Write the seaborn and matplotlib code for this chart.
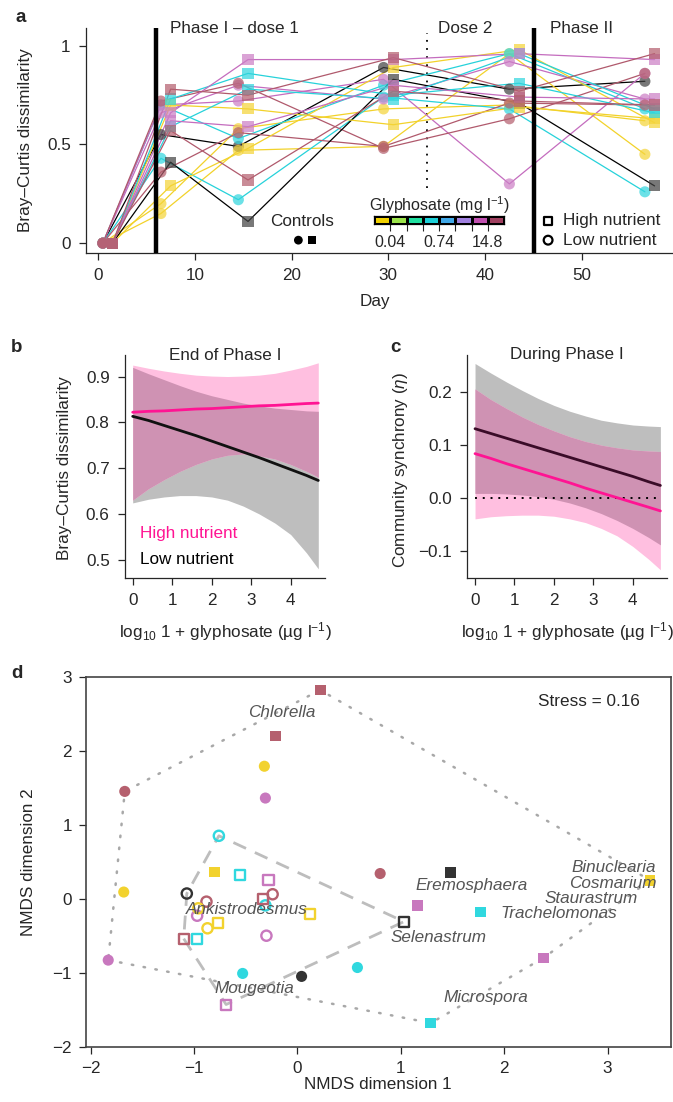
import numpy as np
import pandas as pd
import matplotlib
matplotlib.use("Agg")
import matplotlib.pyplot as plt
import seaborn as sns
from matplotlib.colors import ListedColormap

sns.set_style("ticks")
plt.rcParams["font.family"] = ["Liberation Sans", "DejaVu Sans"]
plt.rcParams["mathtext.fontset"] = "custom"
plt.rcParams["mathtext.rm"] = "Liberation Sans"
plt.rcParams["mathtext.it"] = "Liberation Sans:italic"
plt.rcParams["mathtext.bf"] = "Liberation Sans:bold"
plt.rcParams["font.size"] = 12.3
plt.rcParams["axes.labelsize"] = 12.3
plt.rcParams["xtick.labelsize"] = 12.3
plt.rcParams["ytick.labelsize"] = 12.3
plt.rcParams["axes.linewidth"] = 0.9
plt.rcParams["xtick.major.width"] = 0.9
plt.rcParams["ytick.major.width"] = 0.9
plt.rcParams["xtick.major.size"] = 5
plt.rcParams["ytick.major.size"] = 5

# ---------------- data: panel a ----------------
days = [1, 7, 15, 30, 43, 57]
low_groups = ["control", "yellow", "yellow", "cyan", "cyan", "pink", "pink", "maroon", "maroon"]
low_values = [
    [0, 0.55, 0.49, 0.89, 0.78, 0.82],
    [0, 0.20, 0.58, 0.68, 0.70, 0.62],
    [0, 0.15, 0.47, 0.49, 0.96, 0.45],
    [0, 0.43, 0.22, 0.74, 0.68, 0.26],
    [0, 0.70, 0.53, 0.80, 0.96, 0.68],
    [0, 0.70, 0.72, 0.83, 0.30, 0.86],
    [0, 0.66, 0.80, 0.73, 0.92, 0.73],
    [0, 0.72, 0.81, 0.48, 0.63, 0.86],
    [0, 0.36, 0.56, 0.49, 0.71, 0.70],
]
high_groups = ["control", "yellow", "yellow", "cyan", "cyan", "pink", "pink", "maroon", "maroon"]
high_values = [
    [0, 0.41, 0.11, 0.83, 0.71, 0.29],
    [0, 0.29, 0.48, 0.89, 0.98, 0.61],
    [0, 0.70, 0.68, 0.60, 0.69, 0.63],
    [0, 0.73, 0.86, 0.75, 0.81, 0.66],
    [0, 0.59, 0.78, 0.73, 0.96, 0.68],
    [0, 0.66, 0.93, 0.93, 0.96, 0.93],
    [0, 0.62, 0.59, 0.80, 0.74, 0.73],
    [0, 0.78, 0.75, 0.94, 0.77, 0.96],
    [0, 0.57, 0.32, 0.77, 0.72, 0.70],
]
phase_lines = [6, 45]
dose2_day = 34
colorbar_colors = ["#F0D000", "#9BE34A", "#1FE0A0", "#1BD0D8", "#40A8E8", "#A080E0", "#C050B0", "#A04060"]
colorbar_labels = ["0.04", "", "", "0.74", "", "", "14.8"]

# ---------------- data: panels b, c ----------------
glyph_x = [0, 0.4, 0.8, 1.2, 1.6, 2.0, 2.4, 2.8, 3.2, 3.6, 4.0, 4.4, 4.7]
b_hi_fit = [0.822, 0.824, 0.825, 0.827, 0.829, 0.830, 0.832, 0.834, 0.836, 0.837, 0.839, 0.841, 0.842]
b_hi_up = [0.925, 0.918, 0.912, 0.907, 0.903, 0.901, 0.900, 0.901, 0.903, 0.907, 0.914, 0.922, 0.930]
b_hi_lo = [0.630, 0.655, 0.675, 0.693, 0.708, 0.720, 0.728, 0.731, 0.727, 0.720, 0.708, 0.693, 0.680]
b_lo_fit = [0.813, 0.804, 0.793, 0.782, 0.771, 0.759, 0.747, 0.735, 0.723, 0.710, 0.697, 0.684, 0.673]
b_lo_up = [0.920, 0.906, 0.893, 0.880, 0.868, 0.858, 0.850, 0.842, 0.836, 0.831, 0.828, 0.825, 0.824]
b_lo_lo = [0.624, 0.632, 0.637, 0.640, 0.640, 0.637, 0.630, 0.617, 0.600, 0.580, 0.555, 0.515, 0.480]

c_lo_fit = [0.130, 0.121, 0.112, 0.103, 0.094, 0.085, 0.076, 0.067, 0.058, 0.049, 0.040, 0.030, 0.023]
c_lo_up = [0.253, 0.235, 0.218, 0.202, 0.187, 0.174, 0.163, 0.154, 0.146, 0.141, 0.137, 0.135, 0.134]
c_lo_lo = [0.008, 0.008, 0.007, 0.005, 0.002, -0.003, -0.010, -0.019, -0.030, -0.043, -0.058, -0.075, -0.089]
c_hi_fit = [0.083, 0.074, 0.064, 0.055, 0.046, 0.037, 0.028, 0.018, 0.009, 0.000, -0.009, -0.018, -0.025]
c_hi_up = [0.205, 0.185, 0.168, 0.152, 0.138, 0.126, 0.115, 0.106, 0.099, 0.094, 0.090, 0.088, 0.087]
c_hi_lo = [-0.040, -0.036, -0.034, -0.033, -0.033, -0.035, -0.040, -0.047, -0.058, -0.072, -0.092, -0.116, -0.136]

# ---------------- data: panel d ----------------
nmds1 = [0.22, -0.21, -0.32, -0.31, -1.67, -1.68, -1.83, -0.80, -0.53, 0.04, 0.80, 1.48, 1.16, 1.77, 0.58, 2.38, 1.29, 3.41,
         -0.76, -0.56, -0.28, -1.07, -0.88, -0.33, -0.24, -0.31, 0.12, -0.96, -0.97, -0.87, -0.77, -1.10, -0.97, -0.30, -0.69, 1.03]
nmds2 = [2.82, 2.20, 1.79, 1.36, 1.45, 0.09, -0.83, 0.36, -1.01, -1.05, 0.34, 0.35, -0.09, -0.18, -0.93, -0.80, -1.68, 0.25,
         0.85, 0.32, 0.25, 0.07, -0.04, -0.01, 0.06, -0.09, -0.21, -0.13, -0.23, -0.40, -0.33, -0.54, -0.54, -0.50, -1.43, -0.31]
point_group = ["maroon", "maroon", "yellow", "pink", "maroon", "yellow", "pink", "yellow", "cyan", "control", "maroon", "control",
               "pink", "cyan", "cyan", "pink", "cyan", "yellow",
               "cyan", "cyan", "pink", "control", "maroon", "maroon", "maroon", "cyan", "yellow", "yellow", "pink", "yellow",
               "yellow", "maroon", "cyan", "pink", "pink", "control"]
point_shape = ["s", "s", "o", "o", "o", "o", "o", "s", "o", "o", "o", "s", "s", "s", "o", "s", "s", "s",
               "o", "s", "s", "o", "o", "s", "o", "o", "s", "o", "o", "o", "s", "s", "s", "o", "s", "s"]
point_filled = [True] * 18 + [False] * 18
species = ["Chlorella", "Ankistrodesmus", "Mougeotia", "Eremosphaera", "Selenastrum",
           "Binuclearia", "Cosmarium", "Staurastrum", "Trachelomonas", "Microspora"]
species_x = [-0.15, -0.49, -0.42, 1.68, 1.36, 3.47, 3.47, 3.29, 2.53, 1.82]
species_y = [2.52, -0.14, -1.21, 0.18, -0.52, 0.42, 0.20, 0.00, -0.20, -1.33]
species_ha = ["center", "center", "center", "center", "center", "right", "right", "right", "center", "center"]

line_colors = {"control": "#000000", "yellow": "#F2D22A", "cyan": "#26D2DA", "pink": "#C46CBE", "maroon": "#B0596C"}
mark_colors = {"control": "#444444", "yellow": "#F4D43A", "cyan": "#33D6DE", "pink": "#CC80C6", "maroon": "#B4606F"}
d_colors = {"control": "#333333", "yellow": "#F2D22E", "cyan": "#30D8DF", "pink": "#C878BE", "maroon": "#B5606E"}

W, H = 673, 1102
fig = plt.figure(figsize=(W / 100, H / 100), dpi=100)


def fax(l, t, r, b):
    return fig.add_axes([l / W, 1 - b / H, (r - l) / W, (b - t) / H])


# ================= panel a =================
ax = fax(86, 28, 672, 253)
for offset, groups, values, mk in [(-0.5, low_groups, low_values, "o"), (0.5, high_groups, high_values, "s")]:
    for g, v in zip(groups, values):
        xs = [d + offset for d in days]
        sns.lineplot(x=xs, y=v, color=line_colors[g], lw=0.9, ax=ax, zorder=2)
    for g, v in zip(groups, values):
        xs = [d + offset for d in days]
        sns.scatterplot(x=xs, y=v, color=mark_colors[g], marker=mk, s=64, alpha=0.72,
                        edgecolor="none", ax=ax, zorder=3)
for d in phase_lines:
    ax.axvline(d, color="black", lw=3.2, zorder=4, solid_capstyle="round")
ax.plot([dose2_day, dose2_day], [0.28, 1.063], color="black", lw=1.3, ls=(0, (1, 3.5)), zorder=1)
ax.set_xlim(-1.24, 59.3)
ax.set_ylim(-0.05, 1.09)
ax.set_xticks([0, 10, 20, 30, 40, 50])
ax.set_yticks([0, 0.5, 1])
ax.set_yticklabels(["0", "0.5", "1"])
ax.tick_params(pad=6)
sns.despine(ax=ax)
ax.text(14.05, 1.089, "Phase I – dose 1", ha="center", va="center", clip_on=False)
ax.text(37.9, 1.089, "Dose 2", ha="center", va="center", clip_on=False)
ax.text(50.0, 1.089, "Phase II", ha="center", va="center", clip_on=False)
ax.text(21.1, 0.108, "Controls", ha="center", va="center")
sns.scatterplot(x=[20.7], y=[0.015], color="black", marker="o", s=40, edgecolor="none", ax=ax)
sns.scatterplot(x=[22.1], y=[0.015], color="black", marker="s", s=36, edgecolor="none", ax=ax)
sns.scatterplot(x=[46.5], y=[0.113], color="black", marker="s", s=34, facecolor="none", edgecolor="black", linewidth=1.6, ax=ax)
sns.scatterplot(x=[46.5], y=[0.015], color="black", marker="o", s=40, facecolor="none", edgecolor="black", linewidth=1.6, ax=ax)
ax.text(48.0, 0.113, "High nutrient", ha="left", va="center")
ax.text(48.0, 0.015, "Low nutrient", ha="left", va="center")
ax.set_xlabel("Day")
ax.set_ylabel("Bray–Curtis dissimilarity")
ax.xaxis.set_label_coords(0.493, -0.216)
ax.xaxis.label.set_va("center")
ax.yaxis.set_label_coords(-0.104, 0.502)
ax.yaxis.label.set_va("center")

# colour bar
cax = fax(374, 216.3, 504, 223.7)
sns.heatmap(np.arange(len(colorbar_colors))[None, :], cmap=ListedColormap(colorbar_colors), cbar=False,
            linewidths=0.8, linecolor="black", ax=cax, xticklabels=False, yticklabels=False)
for s in cax.spines.values():
    s.set_visible(True)
    s.set_linewidth(0.9)
    s.set_color("black")
cax.set_xticks(range(1, len(colorbar_colors)))
cax.set_xticklabels(colorbar_labels, fontsize=11.5)
cax.tick_params(axis="x", length=5, pad=3, width=0.8)
cax.set_yticks([])
cax.set_title("Glyphosate (mg l$^{-1}$)", fontsize=11.5, pad=4)

# ================= panel b =================
bx = fax(125, 355, 325, 578)
b_ov_lo = np.maximum(b_hi_lo, b_lo_lo)
b_ov_up = np.minimum(b_hi_up, b_lo_up)
bx.fill_between(glyph_x, b_lo_lo, b_lo_up, color="#BEBEBE", lw=0)
bx.fill_between(glyph_x, b_hi_lo, b_hi_up, color="#FFBFE0", lw=0)
bx.fill_between(glyph_x, b_ov_lo, b_ov_up, color="#CF92B3", lw=0)
sns.lineplot(x=glyph_x, y=b_hi_fit, color="#FF1493", lw=2.0, ax=bx)
sns.lineplot(x=glyph_x, y=b_lo_fit, color="#111111", lw=2.0, ax=bx)
bx.set_xlim(-0.195, 4.87)
bx.set_ylim(0.46, 0.947)
bx.set_xticks([0, 1, 2, 3, 4])
bx.set_yticks([0.5, 0.6, 0.7, 0.8, 0.9])
bx.tick_params(pad=6)
sns.despine(ax=bx)
bx.text(2.34, 0.947, "End of Phase I", ha="center", va="center", clip_on=False)
bx.text(0.185, 0.557, "High nutrient", color="#FF1493", ha="left", va="center")
bx.text(0.185, 0.500, "Low nutrient", color="black", ha="left", va="center")
bx.set_xlabel("log$_{10}$ 1 + glyphosate (µg l$^{-1}$)")
bx.set_ylabel("Bray–Curtis dissimilarity")
bx.xaxis.set_label_coords(0.5, -0.242)
bx.xaxis.label.set_va("center")
bx.yaxis.set_label_coords(-0.30, 0.493)
bx.yaxis.label.set_va("center")

# ================= panel c =================
cx = fax(467.3, 355, 666.7, 578)
c_ov_lo = np.maximum(c_hi_lo, c_lo_lo)
c_ov_up = np.minimum(c_hi_up, c_lo_up)
cx.fill_between(glyph_x, c_lo_lo, c_lo_up, color="#BEBEBE", lw=0)
cx.fill_between(glyph_x, c_hi_lo, c_hi_up, color="#FFBFE0", lw=0)
cx.fill_between(glyph_x, c_ov_lo, c_ov_up, color="#CF92B3", lw=0)
cx.plot([0, 4.7], [0, 0], color="black", lw=1.4, ls=(0, (1, 3)))
sns.lineplot(x=glyph_x, y=c_hi_fit, color="#FF1493", lw=2.0, ax=cx)
sns.lineplot(x=glyph_x, y=c_lo_fit, color="#3A0C28", lw=2.0, ax=cx)
cx.set_xlim(-0.196, 4.86)
cx.set_ylim(-0.1515, 0.269)
cx.set_xticks([0, 1, 2, 3, 4])
cx.set_yticks([-0.1, 0.0, 0.1, 0.2])
cx.set_yticklabels(["−0.1", "0.0", "0.1", "0.2"])
cx.tick_params(pad=6)
sns.despine(ax=cx)
cx.text(2.33, 0.269, "During Phase I", ha="center", va="center", clip_on=False)
cx.set_xlabel("log$_{10}$ 1 + glyphosate (µg l$^{-1}$)")
cx.set_ylabel("Community synchrony ($\\eta$)")
cx.xaxis.set_label_coords(0.5, -0.242)
cx.xaxis.label.set_va("center")
cx.yaxis.set_label_coords(-0.3375, 0.484)
cx.yaxis.label.set_va("center")

# ================= panel d =================
dx = fax(86, 676.7, 670.7, 1046.7)
pts = pd.DataFrame({"x": nmds1, "y": nmds2, "group": point_group, "shape": point_shape, "filled": point_filled})


def hull(px, py):
    p = sorted(set(zip(px, py)))

    def cross(o, a, b):
        return (a[0] - o[0]) * (b[1] - o[1]) - (a[1] - o[1]) * (b[0] - o[0])
    lower, upper = [], []
    for q in p:
        while len(lower) >= 2 and cross(lower[-2], lower[-1], q) <= 0:
            lower.pop()
        lower.append(q)
    for q in reversed(p):
        while len(upper) >= 2 and cross(upper[-2], upper[-1], q) <= 0:
            upper.pop()
        upper.append(q)
    h = lower[:-1] + upper[:-1]
    h.append(h[0])
    return [a for a, _ in h], [b for _, b in h]


fx, fy = hull(pts.loc[pts.filled, "x"], pts.loc[pts.filled, "y"])
ox, oy = hull(pts.loc[~pts.filled, "x"], pts.loc[~pts.filled, "y"])
dx.plot(fx, fy, color="#A8A8A8", lw=1.8, ls=(0, (0.6, 4.2)), dash_capstyle="round", zorder=1)
dx.plot(ox, oy, color="#BDBDBD", lw=2.0, ls=(0, (5, 3.5)), zorder=1)

for (g, shp, fl), sub in pts.groupby(["group", "shape", "filled"]):
    c = d_colors[g]
    if fl:
        sns.scatterplot(data=sub, x="x", y="y", color=c, marker=shp, s=64 if shp == "o" else 60,
                        edgecolor="none", ax=dx, zorder=3)
    else:
        sns.scatterplot(data=sub, x="x", y="y", color=c, marker=shp, s=54 if shp == "o" else 52,
                        facecolor="none", edgecolor=c, linewidth=1.7, ax=dx, zorder=3)
for name, sx, sy, ha in zip(species, species_x, species_y, species_ha):
    dx.text(sx, sy, name, ha=ha, va="center", style="italic", color="#555555", zorder=4)
dx.text(3.316, 2.66, "Stress = 0.16", ha="right", va="center")
dx.set_xlim(-2.045, 3.61)
dx.set_ylim(-2, 3)
dx.set_xticks([-2, -1, 0, 1, 2, 3])
dx.set_yticks([-2, -1, 0, 1, 2, 3])
dx.tick_params(pad=5)
for s in dx.spines.values():
    s.set_linewidth(1.2)
    s.set_color("#444444")
dx.set_xlabel("NMDS dimension 1")
dx.set_ylabel("NMDS dimension 2")
dx.xaxis.set_label_coords(0.499, -0.1035)
dx.xaxis.label.set_va("center")
dx.yaxis.set_label_coords(-0.099, 0.5)
dx.yaxis.label.set_va("center")

# panel letters
for lab, px_, py_ in [("a", 20.7, 18), ("b", 16.7, 348), ("c", 395, 348), ("d", 16.7, 674)]:
    fig.text(px_ / W, 1 - py_ / H, lab, fontsize=13.5, fontweight="bold", ha="center", va="center")

fig.savefig("out.png", dpi=100)
